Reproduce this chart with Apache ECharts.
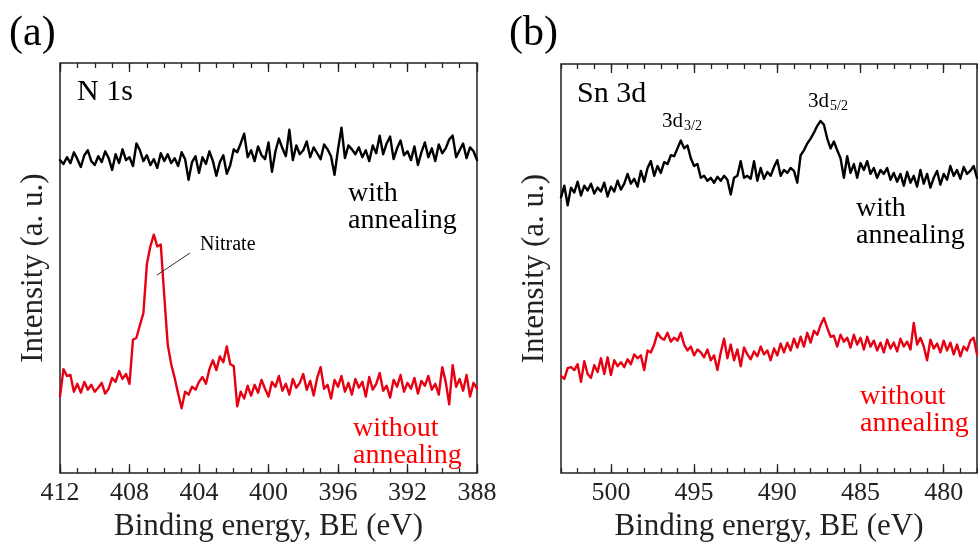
<!DOCTYPE html>
<html>
<head>
<meta charset="utf-8">
<script src="https://cdn.jsdelivr.net/npm/echarts@6/dist/echarts.min.js"></script>
<style>
  html, body { margin: 0; padding: 0; background: #ffffff; }
  #chart { width: 978px; height: 547px; }
</style>
</head>
<body>
<div id="chart"></div>
<script>
// XPS spectra sampled every 0.2 eV, intensities in arbitrary units.
const stepBE = 0.2;

// N 1s region: 412 eV down to 388 eV
const n1sStartBE = 412;
const n1sWithAnnealing = [
  319, 315, 322, 316, 327, 320, 312, 324, 329, 318,
  314, 323, 317, 328, 321, 309, 325, 316, 330, 319,
  322, 313, 336, 329, 318, 324, 314, 320, 311, 326,
  318, 325, 316, 321, 313, 327, 320, 299, 317, 323,
  306, 322, 315, 328, 318, 303, 317, 324, 305, 314,
  330, 327, 336, 346, 322, 329, 318, 333, 324, 320,
  337, 307, 328, 341, 331, 323, 350, 319, 334, 325,
  329, 338, 322, 332, 326, 320, 335, 330, 323, 304,
  330, 352, 321, 334, 330, 325, 332, 322, 329, 318,
  334, 326, 344, 325, 336, 343, 320, 331, 339, 324,
  328, 319, 333, 314, 327, 337, 322, 331, 318, 335,
  326, 331, 340, 344, 322, 329, 336, 321, 332, 328,
  319
];
const n1sWithoutAnnealing = [
  78, 106, 99, 100, 83, 91, 82, 93, 85, 90,
  83, 87, 92, 81, 86, 97, 93, 104, 96, 101,
  91, 136, 138, 151, 163, 213, 231, 243, 231, 233,
  181, 131, 111, 97, 81, 66, 83, 80, 88, 85,
  93, 98, 91, 106, 115, 105, 119, 113, 129, 111,
  109, 68, 83, 76, 89, 79, 90, 82, 95, 86,
  78, 93, 88, 99, 84, 91, 80, 96, 87, 92,
  101, 85, 94, 79, 97, 108, 86, 90, 76, 95,
  88, 99, 83, 92, 80, 96, 87, 93, 78, 98,
  85, 91, 102, 84, 89, 77, 95, 88, 100, 83,
  92, 86, 97, 81, 94, 89, 99, 85, 91, 80,
  108, 93, 70, 110, 88, 96, 84, 100, 78, 92,
  86
];

// Sn 3d region: 503 eV down to 478 eV
const sn3dStartBE = 503;
const sn3dWithAnnealing = [
  281, 293, 273, 291, 286, 297, 283, 293, 288, 295,
  285, 291, 287, 296, 282, 292, 287, 298, 289, 295,
  305, 295, 300, 292, 308, 297, 311, 318, 303, 313,
  306, 317, 315, 324, 323, 331, 339, 331, 334, 321,
  313, 315, 301, 303, 298, 301, 296, 302, 298, 303,
  299, 284, 301, 303, 318, 301, 303, 300, 318, 298,
  311, 300, 307, 303, 312, 319, 303, 309, 306, 311,
  308, 296, 324, 329, 336, 341, 347, 354, 359, 355,
  341, 331, 338, 329, 321, 301, 323, 306, 315, 301,
  316, 309, 318, 305, 311, 301, 309, 305, 311, 299,
  306, 297, 305, 293, 307, 296, 303, 292, 309, 295,
  305, 291, 301, 308, 294, 305, 299, 313, 303, 309,
  300, 312, 305, 308, 313, 301
];
const sn3dWithoutAnnealing = [
  99, 96, 107, 108, 105, 111, 93, 114, 101, 97,
  110, 103, 117, 101, 118, 100, 115, 109, 113, 108,
  116, 111, 121, 117, 120, 105, 125, 123, 131, 143,
  138, 136, 143, 134, 138, 135, 143, 131, 125, 129,
  120, 126, 123, 118, 126, 115, 120, 105, 123, 137,
  117, 131, 115, 126, 109, 128, 121, 116, 124, 119,
  129, 121, 125, 115, 127, 120, 132, 123, 133, 125,
  137, 128, 139, 129, 143, 133, 145, 141, 151, 158,
  148, 139, 140, 129, 141, 134, 138, 128, 141, 131,
  138, 126, 139, 129, 135, 125, 133, 123, 136, 127,
  133, 124, 137, 129, 134, 126, 153, 131, 138, 129,
  115, 136, 127, 132, 123, 135, 125, 133, 121, 131,
  119, 129, 125, 135, 138, 121
];

// Axis ranges and tick marks
const n1sRange = [388, 412];
const sn3dRange = [478, 503];
const n1sMajorTicks = [412, 408, 404, 400, 396, 392, 388];
const sn3dMajorTicks = [500, 495, 490, 485, 480];

const xTitle = 'Binding energy, BE (eV)';
const yTitle = 'Intensity (a. u.)';

function toPairs(startBE, values) {
  return values.map((v, i) => [+(startBE - i * stepBE).toFixed(1), v]);
}
function integerTicks(range) {
  const out = [];
  for (let v = range[0]; v <= range[1]; v++) out.push(v);
  return out;
}

const FONT = '"Liberation Serif", "Times New Roman", serif';
const INK = '#222222';
const RED_LINE = '#e60012';
const RED_TEXT = '#ff0000';

const chart = echarts.init(document.getElementById('chart'), null, { renderer: 'canvas' });

// one panel = bottom/top axes carrying long (labelled) and short ticks
function panelXAxes(gridIndex, range, majors) {
  const base = {
    type: 'value', gridIndex, min: range[0], max: range[1], inverse: true,
    splitLine: { show: false }, axisLine: { show: false }
  };
  const major = (position, labels) => Object.assign({}, base, {
    position,
    name: labels ? xTitle : '',
    nameLocation: 'middle', nameGap: 37,
    nameTextStyle: { fontFamily: FONT, fontSize: 31, color: INK },
    axisTick: { show: true, inside: true, length: 9, customValues: majors,
                lineStyle: { color: INK, width: 1.3 } },
    axisLabel: { show: labels, customValues: majors, margin: 7,
                 fontFamily: FONT, fontSize: 26, color: INK }
  });
  const minor = (position) => Object.assign({}, base, {
    position,
    axisTick: { show: true, inside: true, length: 5, customValues: integerTicks(range),
                lineStyle: { color: INK, width: 1.3 } },
    axisLabel: { show: false }
  });
  return [major('bottom', true), minor('bottom'), major('top', false), minor('top')];
}

function panelYAxis(gridIndex, max) {
  return {
    type: 'value', gridIndex, min: 0, max,
    name: yTitle, nameLocation: 'middle', nameGap: 11,
    nameTextStyle: { fontFamily: FONT, fontSize: 31, color: INK },
    axisLine: { show: false }, axisTick: { show: false },
    axisLabel: { show: false }, splitLine: { show: false }
  };
}

function lineSeries(xAxisIndex, yAxisIndex, data, color) {
  return {
    type: 'line', xAxisIndex, yAxisIndex, data,
    showSymbol: false, symbol: 'none', silent: true,
    lineStyle: { color, width: 2.4, join: 'round', cap: 'round' }, z: 3
  };
}

function label(text, x, y, size, fill, extra) {
  return {
    type: 'text', z: 10,
    style: Object.assign({ text, x, y, font: size + 'px ' + FONT, fill,
                           verticalAlign: 'middle' }, extra || {})
  };
}
function block(text, x, top, fill) {
  return {
    type: 'text', z: 10,
    style: { text, x, y: top, font: '28px ' + FONT, fill, lineHeight: 27,
             verticalAlign: 'top' }
  };
}

chart.setOption({
  animation: false,
  backgroundColor: '#ffffff',
  grid: [
    { left: 60, top: 63, width: 417, height: 418, show: true,
      borderColor: INK, borderWidth: 1.5, backgroundColor: 'transparent' },
    { left: 561, top: 64, width: 416, height: 417, show: true,
      borderColor: INK, borderWidth: 1.5, backgroundColor: 'transparent' }
  ],
  xAxis: panelXAxes(0, n1sRange, n1sMajorTicks).concat(panelXAxes(1, sn3dRange, sn3dMajorTicks)),
  yAxis: [panelYAxis(0, 418), panelYAxis(1, 417)],
  series: [
    lineSeries(0, 0, toPairs(n1sStartBE, n1sWithAnnealing), '#000000'),
    lineSeries(0, 0, toPairs(n1sStartBE, n1sWithoutAnnealing), RED_LINE),
    lineSeries(4, 1, toPairs(sn3dStartBE, sn3dWithAnnealing), '#000000'),
    lineSeries(4, 1, toPairs(sn3dStartBE, sn3dWithoutAnnealing), RED_LINE)
  ],
  graphic: [
    label('(a)', 9, 34, 42, '#000'),
    label('(b)', 509, 34, 42, '#000'),
    label('N 1s', 77, 92, 30, '#000'),
    label('Sn 3d', 577, 94, 30, '#000'),
    label('Nitrate', 200, 245, 20, '#000'),
    { type: 'line', z: 10,
      shape: { x1: 190, y1: 253, x2: 157, y2: 275 },
      style: { stroke: '#333', lineWidth: 1 } },
    label('3d', 662, 121, 21, '#000'),
    label('3/2', 684, 126, 14, '#000'),
    label('3d', 808, 101, 21, '#000'),
    label('5/2', 830, 106, 14, '#000'),
    block('with\nannealing', 348, 180, '#000'),
    block('without\nannealing', 353, 415, RED_TEXT),
    block('with\nannealing', 856, 195, '#000'),
    block('without\nannealing', 860, 383, RED_TEXT)
  ]
});
</script>
</body>
</html>
